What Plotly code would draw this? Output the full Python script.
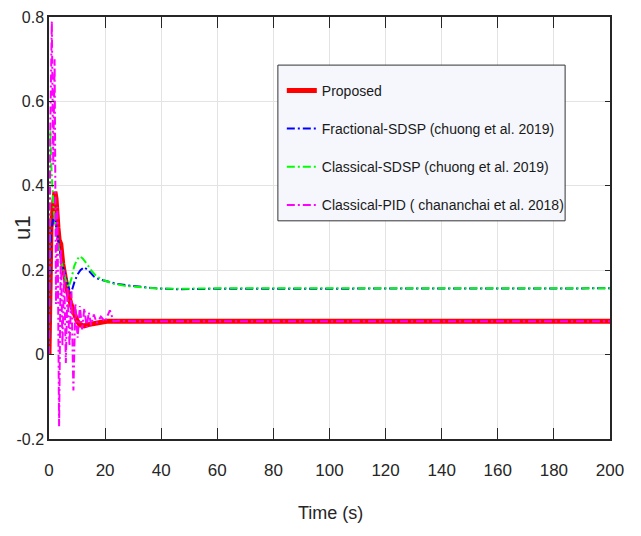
import plotly.graph_objects as go

# ---------------- data ----------------
t_prop = [0, 0.3, 0.7, 1.2, 1.7, 2.1, 2.5, 2.9, 3.2, 3.6, 4.2, 4.9, 5.8, 6.7, 7.8, 9.0, 10.0, 11.1,
          12.5, 14.0, 16.0, 18.0, 20.6, 25, 30, 40, 200]
u_prop = [0, 0.20, 0.30, 0.33, 0.36, 0.386, 0.37, 0.345, 0.30, 0.272, 0.262, 0.215, 0.18, 0.148,
          0.12, 0.095, 0.08, 0.07, 0.068, 0.071, 0.074, 0.077, 0.079, 0.079, 0.079, 0.079, 0.079]

t_frac = [0, 0.3, 0.7, 1.2, 1.7, 2.2, 3.0, 3.8, 4.5, 5.3, 6.3, 7.0, 7.6, 8.3, 9.2, 10.2, 11.2, 12.5,
          14.0, 16.0, 18.0, 20.6, 24, 28, 33, 38, 45, 60, 200]
u_frac = [0, 0.20, 0.29, 0.31, 0.33, 0.32, 0.28, 0.25, 0.22, 0.20, 0.175, 0.155, 0.145, 0.155, 0.175,
          0.19, 0.20, 0.207, 0.20, 0.185, 0.178, 0.174, 0.168, 0.164, 0.16, 0.157, 0.155, 0.156, 0.157]

t_clas = [0, 0.2, 0.5, 0.8, 1.2, 1.6, 2.0, 2.5, 3.0, 3.5, 4.0, 5.0, 6.0, 7.0, 8.0, 9.0, 10.0, 11.0,
          12.0, 13.5, 15, 17, 20, 23, 27, 32, 38, 45, 60, 200]
u_clas = [0, 0.30, 0.53, 0.45, 0.38, 0.35, 0.32, 0.30, 0.27, 0.25, 0.23, 0.205, 0.175, 0.16, 0.18,
          0.21, 0.225, 0.233, 0.228, 0.215, 0.20, 0.185, 0.175, 0.168, 0.163, 0.16, 0.157, 0.156,
          0.157, 0.157]

t_pid = [0, 0.5, 1.0, 1.5, 2.0, 2.5, 3.0, 3.6, 4.2, 4.8, 5.4, 6.0, 6.6, 7.3, 8.0, 8.7, 9.4, 10.2,
         11.0, 11.8, 12.6, 13.4, 14.2, 15.0, 16.0, 17.0, 18.5, 20, 21.7, 23, 25, 30, 200]
u_pid = [0, 0.55, 0.79, 0.45, 0.70, 0.12, 0.35, -0.17, 0.25, 0.02, 0.20, -0.02, 0.16, 0.02, 0.15,
         -0.085, 0.12, 0.04, 0.115, 0.06, 0.11, 0.065, 0.10, 0.07, 0.095, 0.075, 0.09, 0.078, 0.105,
         0.079, 0.08, 0.079, 0.079]

names = ["Proposed",
         "Fractional-SDSP (chuong et al. 2019)",
         "Classical-SDSP (chuong et al. 2019)",
         "Classical-PID ( chananchai et al. 2018)"]

x_ticks = [0, 20, 40, 60, 80, 100, 120, 140, 160, 180, 200]
y_ticks = [-0.2, 0, 0.2, 0.4, 0.6, 0.8]
y_ticklabels = ["-0.2", "0", "0.2", "0.4", "0.6", "0.8"]

x_title = "Time (s)"
y_title = "u1"

# ---------------- figure ----------------
FONT = "Liberation Sans, Arial, sans-serif"
INK = "#262626"
DD = "8px,3px,2px,3px"

fig = go.Figure()
fig.add_trace(go.Scatter(x=t_prop, y=u_prop, mode="lines", name=names[0], legendgroup="a",
                         line=dict(color="#ff0000", width=5)))
fig.add_trace(go.Scatter(x=t_frac, y=u_frac, mode="lines", name=names[1], legendgroup="b",
                         line=dict(color="#0000ff", width=2, dash=DD)))
fig.add_trace(go.Scatter(x=t_clas, y=u_clas, mode="lines", name=names[2], legendgroup="c",
                         line=dict(color="#00ff00", width=2, dash=DD)))
fig.add_trace(go.Scatter(x=t_pid, y=u_pid, mode="lines", name=names[3], legendgroup="d",
                         line=dict(color="#ff00ff", width=2, dash=DD)))

axis_common = dict(showgrid=True, gridcolor="#e3e3e3", gridwidth=1, zeroline=False,
                   showline=True, linecolor=INK, linewidth=1.5, mirror="ticks",
                   ticks="inside", tickcolor=INK, tickwidth=1, automargin=False,
                   ticklabeloverflow="allow")

fig.update_xaxes(range=[0, 200], tickvals=x_ticks, ticklen=11, ticklabelstandoff=15,
                 tickfont=dict(family=FONT, size=17, color=INK), **axis_common)
fig.update_yaxes(range=[-0.2, 0.8], tickvals=y_ticks, ticktext=y_ticklabels, ticklen=5,
                 tickfont=dict(family=FONT, size=16, color=INK), **axis_common)

fig.add_annotation(text=x_title, xref="paper", yref="paper", x=0.501, y=-0.176,
                   xanchor="center", yanchor="middle", showarrow=False,
                   font=dict(family=FONT, size=18, color=INK))
fig.add_annotation(text=y_title, xref="paper", yref="paper", x=-0.048, y=0.5,
                   xanchor="center", yanchor="middle", showarrow=False, textangle=-90,
                   font=dict(family=FONT, size=22, color=INK))

# legend box (drawn as a shape so its padding matches the original)
fig.add_shape(type="rect", xref="paper", yref="paper", x0=0.408, x1=0.920, y0=0.517, y1=0.886,
              fillcolor="#f5f7fc", line=dict(color="#333333", width=1), layer="above")

fig.update_layout(
    width=641, height=536,
    margin=dict(l=41, r=39, t=9, b=105),
    paper_bgcolor="white", plot_bgcolor="white",
    font=dict(family=FONT, color=INK),
    legend=dict(x=0.415, y=0.863, xanchor="left", yanchor="top",
                bgcolor="rgba(0,0,0,0)", borderwidth=0,
                font=dict(family=FONT, size=14, color="#1a1a1a"),
                tracegroupgap=17, traceorder="grouped"),
    showlegend=True,
)

fig.write_html("out.html")
